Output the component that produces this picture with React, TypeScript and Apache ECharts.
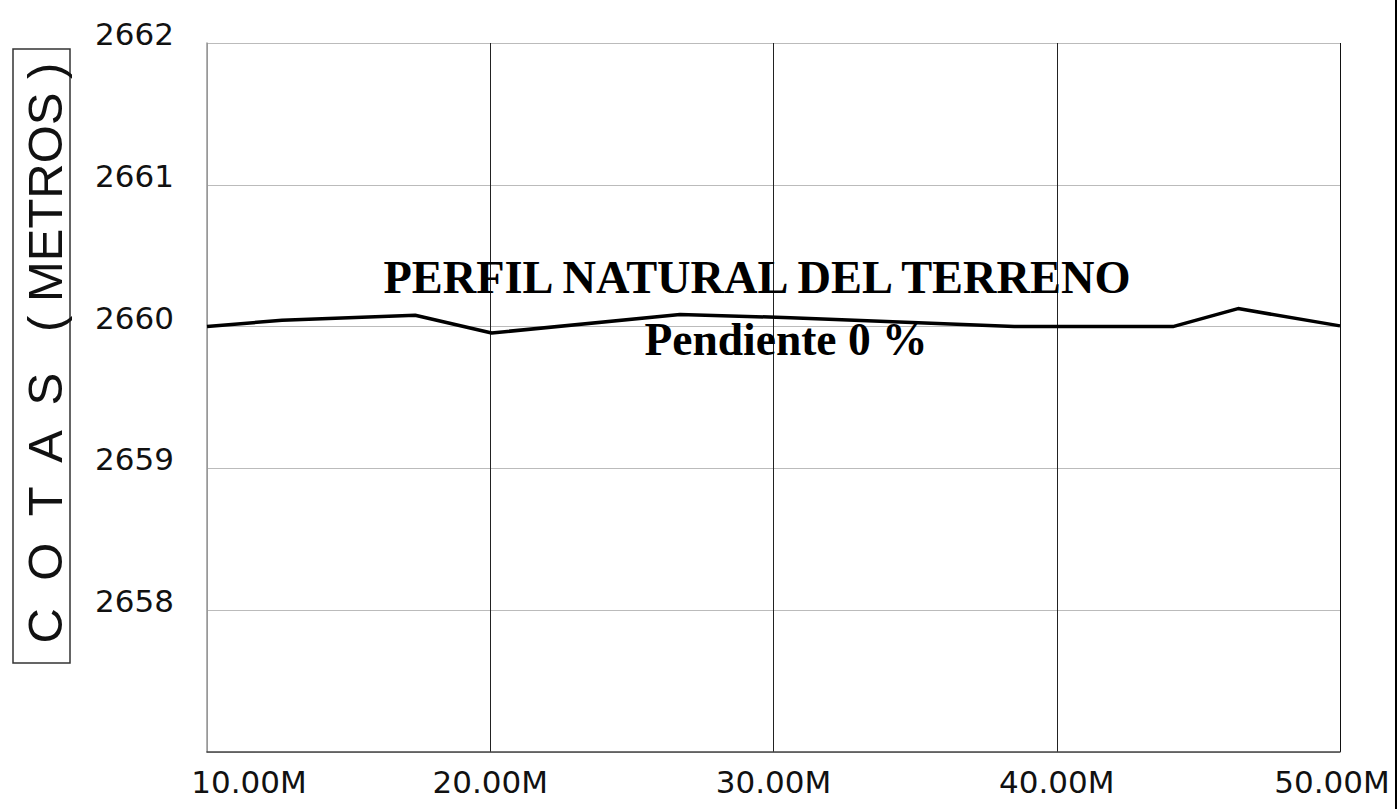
import React, { useEffect, useRef } from "react";
import * as echarts from "echarts";

const distances = [10, 12.65, 17.35, 20.05, 26.7, 30.6, 38.5, 44.1, 46.4, 50];
const elevations = [2660.0, 2660.045, 2660.08, 2659.955, 2660.085, 2660.063, 2660.0, 2660.0, 2660.127, 2660.005];
const yTicks = [2657, 2658, 2659, 2660, 2661, 2662];
const xTicks = [10, 20, 30, 40, 50];
const titleText = "PERFIL NATURAL DEL TERRENO";
const subtitleText = "Pendiente 0 %";
const yTitleText = "C  O  T  A  S   ( METROS )";

export default function App() {
  const ref = useRef<HTMLDivElement>(null);
  useEffect(() => {
    if (!ref.current) return;
    const chart = echarts.init(ref.current, null, { renderer: "svg" });
    const tickFont = { fontFamily: "DejaVu Sans", fontSize: 31, color: "#111" };
    const first = xTicks[0];
    const last = xTicks[xTicks.length - 1];
    chart.setOption({
      animation: false,
      backgroundColor: "#fff",
      grid: { left: 207, right: 60, top: 43, bottom: 57, containLabel: false },
      xAxis: {
        type: "value",
        min: first,
        max: last,
        interval: 10,
        axisLine: { show: true, lineStyle: { color: "#444", width: 1.5 } },
        axisTick: { show: false },
        splitLine: { show: true, lineStyle: { color: ["#999", "#222", "#222", "#222", "#111"], width: 1 } },
        axisLabel: {
          ...tickFont,
          margin: 14,
          formatter: (v: number) => {
            const s = v.toFixed(2) + "M";
            if (v === first) return "{a|" + s + "}";
            if (v === last) return "{b|" + s + "}";
            return s;
          },
          rich: {
            a: { ...tickFont, padding: [0, 0, 0, 84] },
            b: { ...tickFont, padding: [0, 16, 0, 0] },
          },
        },
      },
      yAxis: {
        type: "value",
        min: yTicks[0],
        max: yTicks[yTicks.length - 1],
        interval: 1,
        axisLine: { show: true, lineStyle: { color: "#999", width: 1.5 } },
        axisTick: { show: false },
        splitLine: { show: true, lineStyle: { color: "#bbb", width: 1 } },
        axisLabel: {
          ...tickFont,
          align: "left",
          margin: 112,
          verticalAlign: "bottom",
          lineHeight: 18,
          formatter: (v: number) => (v === yTicks[0] ? "" : String(v)),
        },
      },
      series: [
        {
          type: "line",
          data: distances.map((d, i) => [d, elevations[i]]),
          symbol: "none",
          lineStyle: { color: "#000", width: 3.5 },
          z: 5,
        },
      ],
      graphic: [
        {
          type: "rect",
          shape: { x: 13, y: 49, width: 57, height: 614 },
          style: { fill: "none", stroke: "#333", lineWidth: 1.5 },
        },
        {
          type: "text",
          x: 45,
          y: 353,
          rotation: Math.PI / 2,
          style: {
            text: yTitleText,
            font: '49px "Liberation Sans"',
            fill: "#111",
            align: "center",
            verticalAlign: "middle",
          },
        },
        {
          type: "text",
          x: 757,
          y: 277,
          z: 10,
          style: {
            text: titleText,
            font: 'bold 46.4px "Liberation Serif"',
            fill: "#000",
            align: "center",
            verticalAlign: "middle",
          },
        },
        {
          type: "text",
          x: 786,
          y: 339,
          z: 10,
          style: {
            text: subtitleText,
            font: 'bold 45.5px "Liberation Serif"',
            fill: "#000",
            align: "center",
            verticalAlign: "middle",
          },
        },
        {
          type: "line",
          shape: { x1: 1396, y1: 0, x2: 1396, y2: 809 },
          style: { stroke: "#000", lineWidth: 2 },
        },
      ],
    });
    return () => chart.dispose();
  }, []);
  return <div ref={ref} style={{ position: "fixed", left: 0, top: 0, width: 1400, height: 809 }} />;
}
